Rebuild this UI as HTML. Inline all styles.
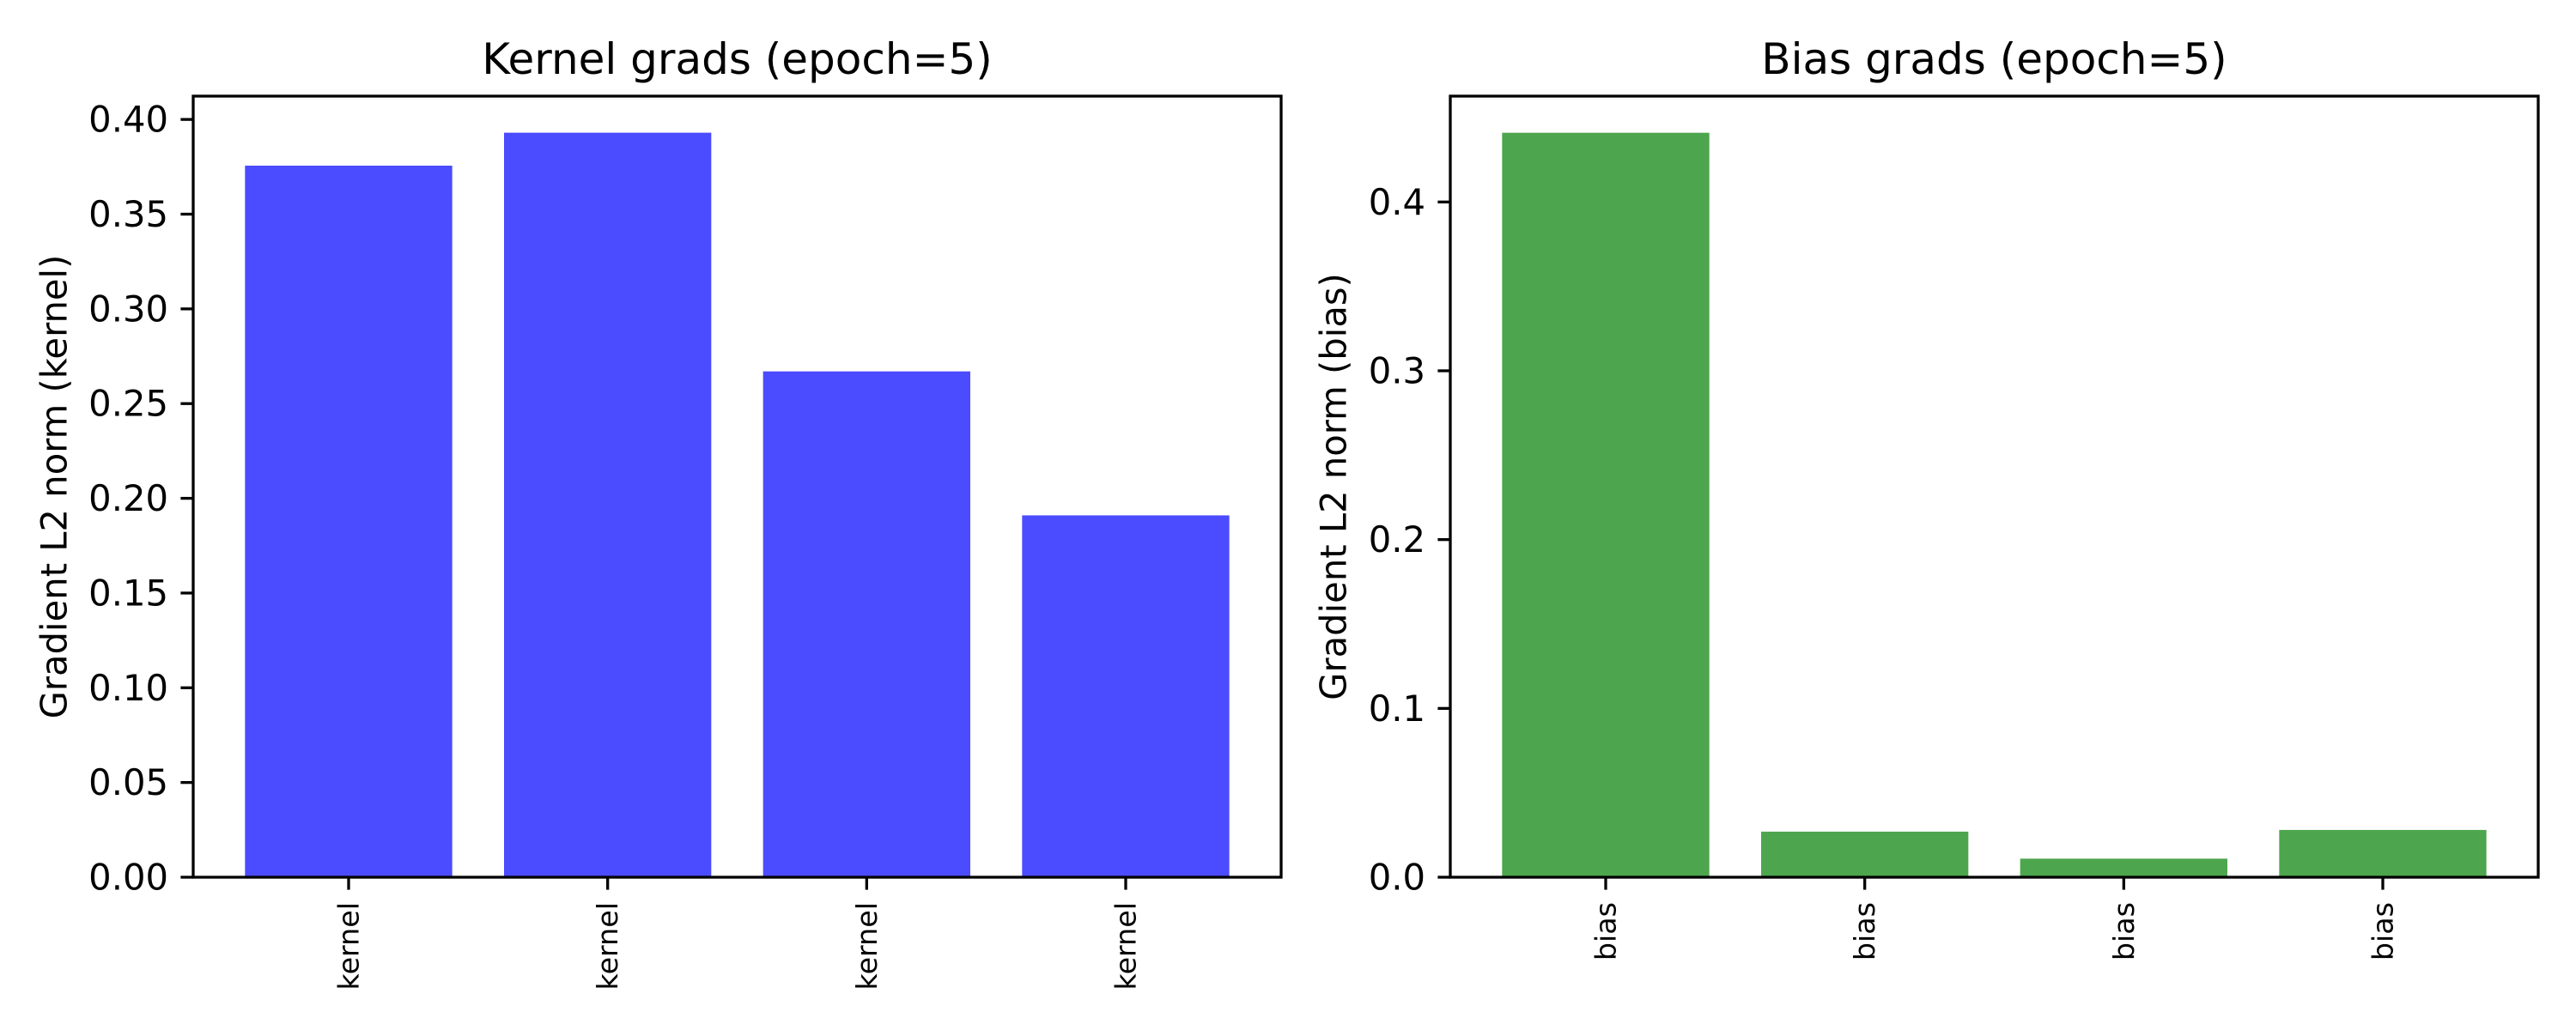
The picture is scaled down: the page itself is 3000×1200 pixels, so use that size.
<!DOCTYPE html>
<html><head><meta charset="utf-8"><style>
html,body{margin:0;padding:0;background:#fff;}
svg{display:block;font-family:"DejaVu Sans","Liberation Sans",sans-serif;}
</style></head><body>
<svg id="fig" width="3000" height="1200" viewBox="0 0 3000 1200" xmlns="http://www.w3.org/2000/svg">
<rect width="3000" height="1200" fill="#fff"/>
</svg>
<script>
const kernelCategories = ["kernel","kernel","kernel","kernel"];
const kernelValues = [0.3756, 0.393, 0.267, 0.191];
const kernelTicks = [0, 0.05, 0.10, 0.15, 0.20, 0.25, 0.30, 0.35, 0.40];
const kernelTickLabels = ["0.00","0.05","0.10","0.15","0.20","0.25","0.30","0.35","0.40"];
const biasCategories = ["bias","bias","bias","bias"];
const biasValues = [0.441, 0.027, 0.011, 0.028];
const biasTicks = [0, 0.1, 0.2, 0.3, 0.4];
const biasTickLabels = ["0.0","0.1","0.2","0.3","0.4"];

const NS = "http://www.w3.org/2000/svg";
const svg = document.getElementById('fig');
function mk(tag, attrs, parent){
  const e = document.createElementNS(NS, tag);
  for (const k in attrs) e.setAttribute(k, attrs[k]);
  (parent||svg).appendChild(e);
  return e;
}
function drawPanel(o){
  const g = mk('g', {});
  
  
  const L=o.left, R=o.left+1267, T=112, B=1022;
  const n = o.cats.length;
  const step = (R-L)/(n-1+1.2);
  const xs = i => L + (0.6+i)*step;
  const ys = v => B - v/o.ymax*(B-T);
  o.vals.forEach((v,i)=>{
    const r = mk('rect', {x:xs(i)-0.4*step, y:ys(v), width:0.8*step, height:B-ys(v), fill:o.color}, g);
    
    
  });
  o.ticks.forEach((t,i)=>{
    const y = ys(t);
    mk('line', {x1:L-14.6, x2:L, y1:y, y2:y, stroke:'#000', 'stroke-width':3.3}, g);
    const tx = mk('text', {x:L-29, y:y, 'font-size':41.7, 'text-anchor':'end', 'dominant-baseline':'central', fill:'#000'}, g);
    tx.textContent = o.tickLabels[i];
    
    
  });
  o.cats.forEach((c,i)=>{
    const x = xs(i);
    mk('line', {x1:x, x2:x, y1:B, y2:B+14.6, stroke:'#000', 'stroke-width':3.3}, g);
    const tx = mk('text', {x:0, y:0, 'font-size':33.3, 'text-anchor':'end', 'dominant-baseline':'central', fill:'#000', transform:`translate(${x},${B+29}) rotate(-90)`}, g);
    tx.textContent = c;
    
    
  });
  const fr = mk('rect', {x:L, y:T, width:R-L, height:B-T, fill:'none', stroke:'#000', 'stroke-width':3.3, 'stroke-linejoin':'miter'}, g);
  
  
  const ti = mk('text', {x:(L+R)/2, y:86, 'font-size':50, 'text-anchor':'middle', fill:'#000'}, g);
  ti.textContent = o.title;
  
  
  const yl = mk('text', {x:0, y:0, 'font-size':41.7, 'text-anchor':'middle', 'dominant-baseline':'central', fill:'#000', transform:`translate(${o.ylabelX},${(T+B)/2}) rotate(-90)`}, g);
  yl.textContent = o.ylabel;
  
  
}
drawPanel({name:'kernel-grads-panel', left:225, cats:kernelCategories, vals:kernelValues, ticks:kernelTicks, tickLabels:kernelTickLabels, ymax:0.4123, color:'#4b4bff', title:'Kernel grads (epoch=5)', ylabel:'Gradient L2 norm (kernel)', ylabelX:63});
drawPanel({name:'bias-grads-panel', left:1689, cats:biasCategories, vals:biasValues, ticks:biasTicks, tickLabels:biasTickLabels, ymax:0.4627, color:'#4da64d', title:'Bias grads (epoch=5)', ylabel:'Gradient L2 norm (bias)', ylabelX:1553});
</script>
</body></html>
